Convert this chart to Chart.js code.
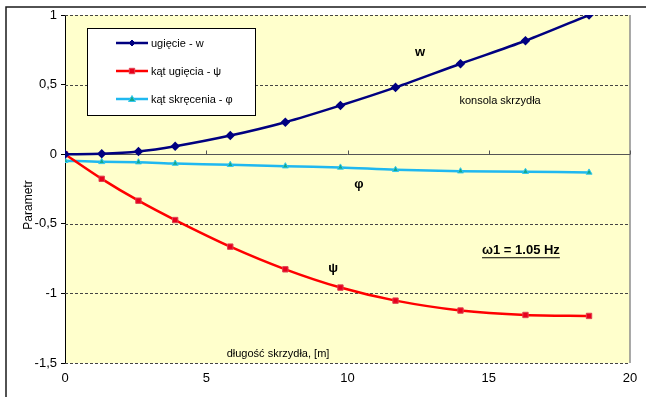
<!DOCTYPE html>
<html>
<head>
<meta charset="utf-8">
<script src="https://cdn.jsdelivr.net/npm/chart.js@4.4.1/dist/chart.umd.min.js"></script>
<style>
  html, body { margin: 0; padding: 0; background: #fff; }
  #wrap { width: 646px; height: 397px; }
</style>
</head>
<body>
<div id="wrap"><canvas id="c" width="646" height="397"></canvas></div>
<script>
// Position along the wing span [m]
const span = [0, 1.3, 2.6, 3.9, 5.85, 7.8, 9.75, 11.7, 14.0, 16.3, 18.55];
// Mode shape components
const deflection = [0, 0.003, 0.019, 0.057, 0.134, 0.23, 0.35, 0.48, 0.65, 0.815, 1.0];
const bendAngle = [0, -0.177, -0.334, -0.473, -0.664, -0.827, -0.958, -1.052, -1.123, -1.155, -1.162];
const twistAngle = [-0.047, -0.055, -0.057, -0.067, -0.076, -0.086, -0.095, -0.112, -0.122, -0.126, -0.131];
const seriesNames = ['ugięcie - w', 'kąt ugięcia - ψ', 'kąt skręcenia - φ'];
const xTicks = [0, 5, 10, 15, 20];
const yTicks = [1, 0.5, 0, -0.5, -1, -1.5];

const FONT = '"Liberation Sans", Arial, sans-serif';

const pts = (ys) => span.map((x, i) => ({ x: x, y: ys[i] }));

// Background, grid, zero axis, annotations and the boxed legend
const decor = {
  id: 'decor',
  beforeDraw(chart) {
    const { ctx, chartArea: a } = chart;
    ctx.save();
    ctx.fillStyle = '#ffffff';
    ctx.fillRect(0, 0, chart.width, chart.height);
    // outer frame (left and top edges)
    ctx.strokeStyle = '#1a1a1a';
    ctx.lineWidth = 1.5;
    ctx.beginPath();
    ctx.moveTo(6, chart.height);
    ctx.lineTo(6, 7);
    ctx.lineTo(chart.width, 7);
    ctx.stroke();
    // plot area fill
    ctx.fillStyle = '#FFFFCC';
    ctx.fillRect(a.left, a.top, a.right - a.left, a.bottom - a.top);
    ctx.restore();
  },
  beforeDatasetsDraw(chart) {
    const { ctx, chartArea: a, scales: { x, y } } = chart;
    ctx.save();
    // dashed horizontal grid
    ctx.strokeStyle = '#444';
    ctx.lineWidth = 1;
    ctx.setLineDash([3, 2]);
    yTicks.forEach(v => {
      if (v === 0) return;
      const py = Math.round(y.getPixelForValue(v)) + 0.5;
      ctx.beginPath();
      ctx.moveTo(a.left, py);
      ctx.lineTo(a.right, py);
      ctx.stroke();
    });
    ctx.setLineDash([]);
    // right border of plot area
    ctx.strokeStyle = '#8c8c8c';
    ctx.lineWidth = 1.5;
    ctx.beginPath();
    ctx.moveTo(a.right, a.top);
    ctx.lineTo(a.right, a.bottom);
    ctx.stroke();
    // horizontal axis through zero with upward ticks
    const y0 = Math.round(y.getPixelForValue(0)) + 0.5;
    ctx.strokeStyle = '#555';
    ctx.lineWidth = 1;
    ctx.beginPath();
    ctx.moveTo(a.left, y0);
    ctx.lineTo(a.right, y0);
    xTicks.forEach(v => {
      if (v === 0) return;
      const px = Math.round(x.getPixelForValue(v)) + 0.5;
      ctx.moveTo(px, y0);
      ctx.lineTo(px, y0 - 4);
    });
    ctx.stroke();
    ctx.restore();
  },
  afterDatasetsDraw(chart) {
    const { ctx, scales: { x, y } } = chart;
    ctx.save();
    ctx.fillStyle = '#000';
    ctx.textAlign = 'center';
    ctx.textBaseline = 'middle';
    const label = (text, xv, yv, font) => {
      ctx.font = font;
      ctx.fillText(text, x.getPixelForValue(xv), y.getPixelForValue(yv));
    };
    label('w', 12.57, 0.73, 'bold 13px ' + FONT);
    label('konsola skrzydła', 15.4, 0.385, '11px ' + FONT);
    label('φ', 10.4, -0.217, 'bold 13px ' + FONT);
    label('ψ', 9.49, -0.82, 'bold 13px ' + FONT);
    label('długość skrzydła, [m]', 7.54, -1.437, '11px ' + FONT);

    // frequency note, bold and underlined
    ctx.font = 'bold 13px ' + FONT;
    const fx = x.getPixelForValue(16.14), fy = y.getPixelForValue(-0.69);
    const ftxt = 'ω1 = 1.05 Hz';
    ctx.fillText(ftxt, fx, fy);
    const fw = ctx.measureText(ftxt).width;
    ctx.fillRect(fx - fw / 2, fy + 7, fw, 1);

    // y axis title
    ctx.save();
    ctx.translate(29, 205);
    ctx.rotate(-Math.PI / 2);
    ctx.font = '12px ' + FONT;
    ctx.fillText('Parametr', 0, 0);
    ctx.restore();

    // legend box
    const bx = 87, by = 28, bw = 168, bh = 87;
    ctx.fillStyle = '#fff';
    ctx.fillRect(bx, by, bw, bh);
    ctx.strokeStyle = '#000';
    ctx.lineWidth = 1;
    ctx.strokeRect(bx + 0.5, by + 0.5, bw, bh);
    const rows = [43, 71, 99];
    chart.data.datasets.forEach((ds, i) => {
      const ry = rows[i];
      ctx.strokeStyle = ds.borderColor;
      ctx.lineWidth = ds.borderWidth;
      ctx.beginPath();
      ctx.moveTo(116, ry);
      ctx.lineTo(148, ry);
      ctx.stroke();
      // marker
      const mx = 132;
      ctx.fillStyle = ds.pointBackgroundColor;
      ctx.strokeStyle = ds.pointBorderColor;
      ctx.lineWidth = 1;
      ctx.beginPath();
      if (ds.pointStyle === 'rectRot') {
        ctx.moveTo(mx, ry - 3); ctx.lineTo(mx + 3, ry); ctx.lineTo(mx, ry + 3); ctx.lineTo(mx - 3, ry);
      } else if (ds.pointStyle === 'rect') {
        ctx.rect(mx - 2.7, ry - 2.7, 5.4, 5.4);
      } else {
        ctx.moveTo(mx, ry - 3.5); ctx.lineTo(mx + 3.5, ry + 2.5); ctx.lineTo(mx - 3.5, ry + 2.5);
      }
      ctx.closePath();
      ctx.fill();
      ctx.stroke();
      ctx.fillStyle = '#000';
      ctx.textAlign = 'left';
      ctx.font = '11px ' + FONT;
      ctx.fillText(ds.label, 151, ry + 0.5);
    });
    ctx.restore();
  }
};

new Chart(document.getElementById('c'), {
  type: 'line',
  data: {
    datasets: [
      {
        label: seriesNames[0],
        data: pts(deflection),
        borderColor: '#000080',
        borderWidth: 2.5,
        pointStyle: 'rectRot',
        pointRadius: 3,
        pointBackgroundColor: '#000080',
        pointBorderColor: '#000080',
        tension: 0.3
      },
      {
        label: seriesNames[1],
        data: pts(bendAngle),
        borderColor: '#FF0000',
        borderWidth: 2.5,
        pointStyle: 'rect',
        pointRadius: 3.8,
        pointBackgroundColor: '#E8001C',
        pointBorderColor: '#E04050',
        pointBorderWidth: 1,
        tension: 0.3
      },
      {
        label: seriesNames[2],
        data: pts(twistAngle),
        borderColor: '#1FB8F0',
        borderWidth: 2.5,
        pointStyle: 'triangle',
        pointRadius: 3.5,
        pointBackgroundColor: '#14A88C',
        pointBorderColor: '#33C8F0',
        pointBorderWidth: 1,
        tension: 0.3
      }
    ]
  },
  options: {
    responsive: false,
    animation: false,
    devicePixelRatio: 1,
    layout: { padding: { left: 0, right: 16, top: 15, bottom: 0 } },
    plugins: { legend: { display: false }, tooltip: { enabled: false } },
    scales: {
      x: {
        type: 'linear',
        min: 0,
        max: 20,
        afterFit(s) { s.height = 34; },
        afterBuildTicks(s) { s.ticks = xTicks.map(v => ({ value: v })); },
        ticks: { color: '#000', font: { size: 13, family: FONT }, padding: 8, maxRotation: 0 },
        grid: { display: false, drawTicks: false },
        border: { display: false }
      },
      y: {
        min: -1.5,
        max: 1,
        afterFit(s) { s.width = 65; },
        afterBuildTicks(s) { s.ticks = yTicks.map(v => ({ value: v })); },
        ticks: {
          color: '#000',
          font: { size: 13, family: FONT },
          padding: 4,
          callback: v => String(v).replace('.', ',')
        },
        grid: { drawOnChartArea: false, drawTicks: true, tickLength: 4, color: '#000' },
        border: { display: true, color: '#000', width: 1 }
      }
    }
  },
  plugins: [decor]
});
</script>
</body>
</html>
